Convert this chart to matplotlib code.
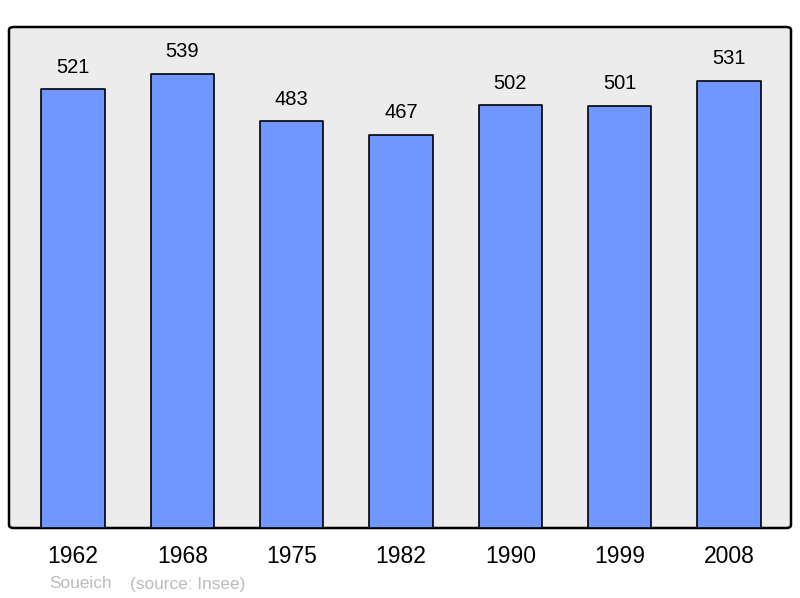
import matplotlib
matplotlib.use("Agg")
from matplotlib import pyplot as plt
from matplotlib.patches import FancyBboxPatch

years = ["1962", "1968", "1975", "1982", "1990", "1999", "2008"]
population = [521, 539, 483, 467, 502, 501, 531]

plt.rcParams['font.family'] = ['Liberation Sans', 'DejaVu Sans']

fig = plt.figure(figsize=(8, 5.98), dpi=100)
ax = fig.add_axes([0.01125, 0.11706, 0.9775, 0.8378])
ax.patch.set_visible(False)
for s in ax.spines.values():
    s.set_visible(False)

frame = FancyBboxPatch((0, 0), 1, 1, boxstyle="round,pad=0,rounding_size=0.006",
                       transform=ax.transAxes, facecolor="#ececec",
                       edgecolor="black", linewidth=1.8, zorder=0, clip_on=False)
ax.add_patch(frame)

x = range(len(years))
bars = ax.bar(x, population, width=0.58, color="#7096ff", edgecolor="black",
              linewidth=1.2, zorder=2)
for b in bars:
    b.set_joinstyle("round")

for xi, v in zip(x, population):
    ax.annotate(str(v), (xi, v), xytext=(0, 9), textcoords="offset points",
                ha="center", va="bottom", fontsize=14.5)

ax.set_xlim(-0.585, 6.567)
ax.set_ylim(0, 594.6)
ax.set_xticks(list(x))
ax.set_xticklabels(years, fontsize=16.5)
ax.tick_params(axis="x", length=0, pad=12.5)
ax.set_yticks([])

fig.text(49 / 800, 1 - 584 / 598, "Soueich", color="#bbbbbb", fontsize=12.4,
         va="center", ha="left")
fig.text(130 / 800, 1 - 584 / 598, "(source: Insee)", color="#bbbbbb",
         fontsize=12.4, va="center", ha="left")

fig.savefig("out.png", dpi=100)
